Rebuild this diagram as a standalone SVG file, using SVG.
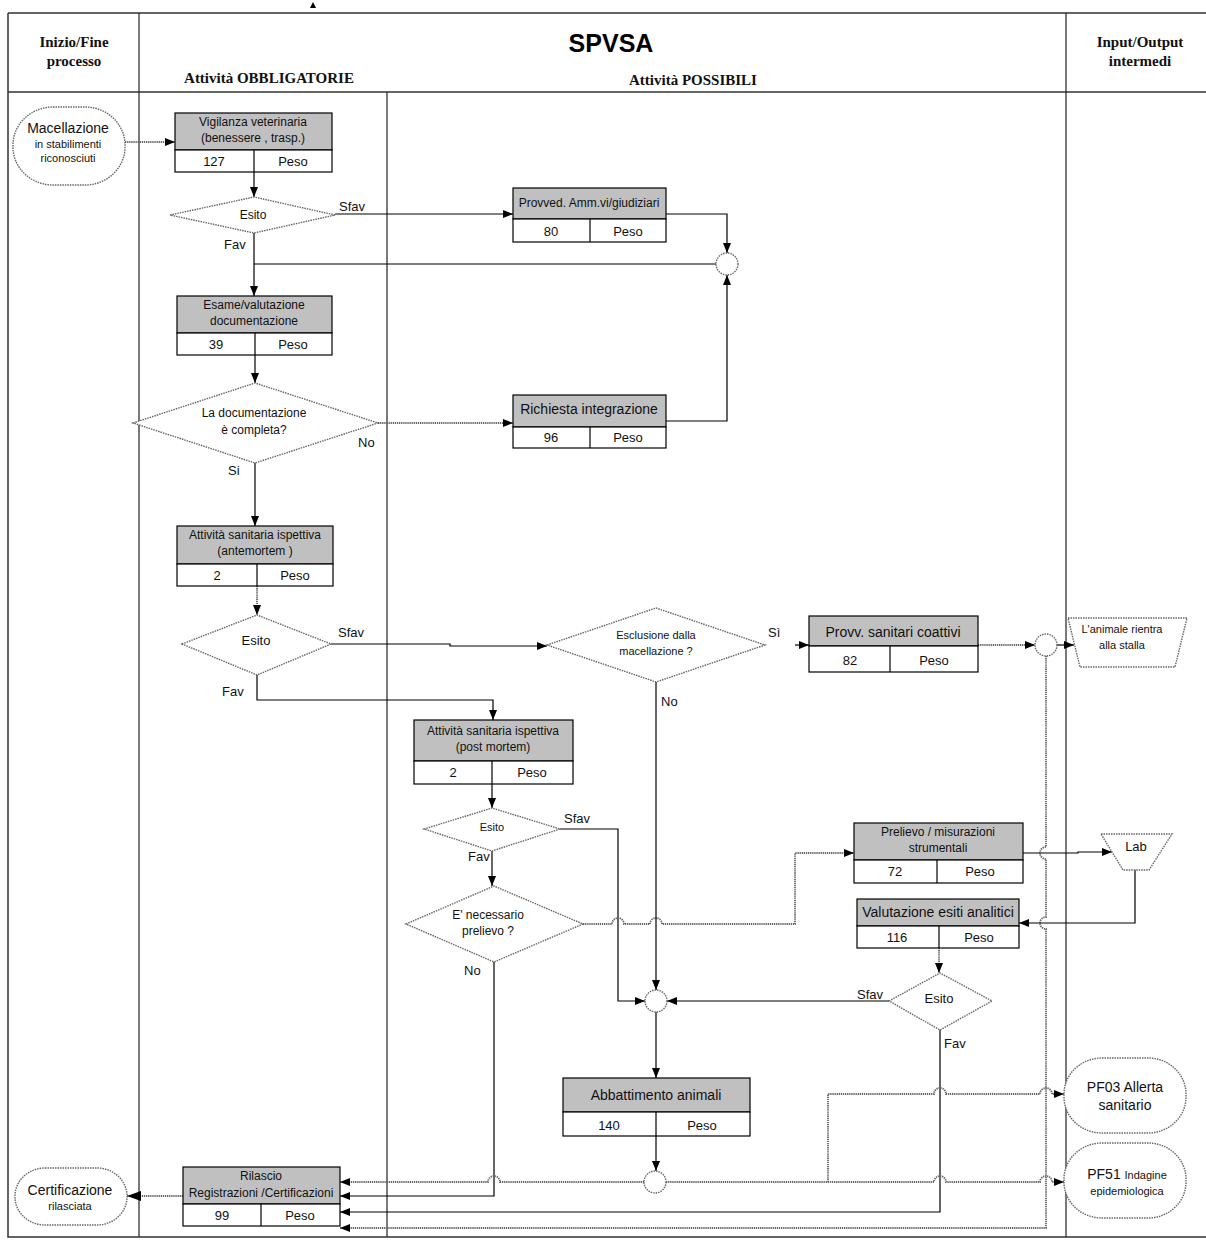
<svg xmlns="http://www.w3.org/2000/svg" width="1206" height="1245" viewBox="0 0 1206 1245">
  <defs>
    <marker id="arr" markerUnits="userSpaceOnUse" markerWidth="10" markerHeight="8" refX="10" refY="4" orient="auto">
      <path d="M0,0 L10,4 L0,8 z" fill="#000"/>
    </marker>
    <marker id="arrL" markerUnits="userSpaceOnUse" markerWidth="14" markerHeight="10" refX="14" refY="5" orient="auto">
      <path d="M0,0 L14,5 L0,10 z" fill="#000"/>
    </marker>
    <style>
      .frame { stroke: #333; stroke-width: 1.5; fill: none; }
      .lane { stroke: #222; stroke-width: 1.2; fill: none; }
      .hdr { font-family: "Liberation Serif", "Times New Roman", serif; font-weight: bold; font-size: 15px; fill: #111; text-anchor: middle; }
      .ttl { font-family: "Liberation Sans", Arial, sans-serif; font-weight: bold; font-size: 25px; fill: #000; text-anchor: middle; }
      .top { fill: #c0c0c0; stroke: #000; stroke-width: 1.2; }
      .bot { fill: #fff; stroke: #000; stroke-width: 1.2; }
      .div { stroke: #000; stroke-width: 1.2; }
      .dec { fill: #fff; stroke: #666; stroke-width: 1.4; stroke-dasharray: 1.5 1; }
      .ln { stroke: #000; stroke-width: 1.2; fill: none; }
      .dl { stroke: #666; stroke-width: 1.8; stroke-dasharray: 1.3 0.8; fill: none; }
      text.t { font-family: "Liberation Sans", Arial, sans-serif; fill: #111; text-anchor: middle; }
      .s11 { font-size: 11px; }
      .s12 { font-size: 12px; }
      .s13 { font-size: 13px; }
      .s14 { font-size: 14px; }
      text.lb { font-family: "Liberation Sans", Arial, sans-serif; font-size: 13px; fill: #111; }
    </style>
  </defs>

  <!-- swimlane table -->
  <g id="table">
    <path class="frame" d="M8,13 H1206 M8,13 V1237 H1206 M8,92 H1206"/>
    <path class="lane" d="M139,13 V1237 M1066,13 V1237 M387,92 V1237"/>
    <polygon points="310,8 316,8 313,2" fill="#000"/>
    <text class="hdr" x="74" y="47">Inizio/Fine</text>
    <text class="hdr" x="74" y="66">processo</text>
    <text class="ttl" x="611" y="52">SPVSA</text>
    <text class="hdr" x="269" y="83">Attività OBBLIGATORIE</text>
    <text class="hdr" x="693" y="85">Attività POSSIBILI</text>
    <text class="hdr" x="1140" y="47">Input/Output</text>
    <text class="hdr" x="1140" y="66">intermedi</text>
  </g>

  <!-- connectors -->
  <g id="connectors">
    <path class="dl" d="M125,142 H175" marker-end="url(#arr)"/>
    <path class="ln" d="M254,172 V197" marker-end="url(#arr)"/>
    <path class="ln" d="M335,214 H513" marker-end="url(#arr)"/>
    <path class="ln" d="M666,214 H727 V253" marker-end="url(#arr)"/>
    <path class="ln" d="M716,264 H254"/>
    <path class="ln" d="M254,233 V296" marker-end="url(#arr)"/>
    <path class="ln" d="M255,355 V383" marker-end="url(#arr)"/>
    <path class="dl" d="M378,423 H513" marker-end="url(#arr)"/>
    <path class="ln" d="M666,421 H727 V275" marker-end="url(#arr)"/>
    <path class="ln" d="M255,463 V526" marker-end="url(#arr)"/>
    <path class="dl" d="M257,586 V615" marker-end="url(#arr)"/>
    <path class="ln" d="M331,644 H450 V646 H547" marker-end="url(#arr)"/>
    <path class="ln" d="M257,675 V700 H493 V720" marker-end="url(#arr)"/>
    <path class="ln" d="M492,784 V808" marker-end="url(#arr)"/>
    <path class="ln" d="M560,829 H618 V1001 H645" marker-end="url(#arr)"/>
    <path class="ln" d="M492,851 V886" marker-end="url(#arr)"/>
    <path class="dl" d="M583,924 H612 a6,6 0 0 1 12,0 H650 a6,6 0 0 1 12,0 H795 V853 H854" marker-end="url(#arr)"/>
    <path class="ln" d="M494,962 V1196 H340" marker-end="url(#arr)"/>
    <path class="ln" d="M656,682 V990" marker-end="url(#arr)"/>
    <path class="ln" d="M795,645 H809" marker-end="url(#arr)"/>
    <path class="dl" d="M978,645 H1035" marker-end="url(#arr)"/>
    <path class="ln" d="M1057,645 H1074" marker-end="url(#arr)"/>
    <path class="dl" d="M1046,656 V847 a6,6 0 0 0 0,12 V917 a6,6 0 0 0 0,12 V1228 H340" marker-end="url(#arr)"/>
    <path class="ln" d="M1023,853 H1078 V852 H1112" marker-end="url(#arr)"/>
    <path class="ln" d="M1135,870 V923 H1019" marker-end="url(#arr)"/>
    <path class="dl" d="M939,948 V973" marker-end="url(#arr)"/>
    <path class="ln" d="M889,1001 H667" marker-end="url(#arr)"/>
    <path class="ln" d="M940,1030 V1212 H340" marker-end="url(#arr)"/>
    <path class="ln" d="M656,1012 V1078" marker-end="url(#arr)"/>
    <path class="ln" d="M656,1136 V1171" marker-end="url(#arr)"/>
    <path class="dl" d="M644,1182 H500 a6,6 0 0 0 -12,0 H340" marker-end="url(#arr)"/>
    <path class="dl" d="M666,1182 H934 a6,6 0 0 1 12,0 H1040 a6,6 0 0 1 12,0 H1064" marker-end="url(#arr)"/>
    <path class="dl" d="M828,1182 V1094 H934 a6,6 0 0 1 12,0 H1040 a6,6 0 0 1 12,0 H1064" marker-end="url(#arr)"/>
    <path class="dl" d="M183,1196 H127" marker-end="url(#arrL)"/>

    <text class="lb" x="339" y="211">Sfav</text>
    <text class="lb" x="224" y="249">Fav</text>
    <text class="lb" x="358" y="447">No</text>
    <text class="lb s11" x="228" y="475">Si</text>
    <text class="lb" x="338" y="637">Sfav</text>
    <text class="lb" x="222" y="696">Fav</text>
    <text class="lb" x="661" y="706">No</text>
    <text class="lb" x="768" y="637">Sì</text>
    <text class="lb s12" x="564" y="823">Sfav</text>
    <text class="lb s12" x="468" y="861">Fav</text>
    <text class="lb" x="464" y="975">No</text>
    <text class="lb" x="857" y="999">Sfav</text>
    <text class="lb" x="944" y="1048">Fav</text>
  </g>

  <!-- start / end terminators -->
  <g id="start">
    <rect class="dec" x="13" y="107" width="112" height="78" rx="40" ry="38"/>
    <text class="t s14" x="68" y="133">Macellazione</text>
    <text class="t s11" x="68" y="148">in stabilimenti</text>
    <text class="t s11" x="68" y="162">riconosciuti</text>
  </g>
  <g id="end">
    <rect class="dec" x="15" y="1168" width="112" height="57" rx="30" ry="28"/>
    <text class="t s14" x="70" y="1195">Certificazione</text>
    <text class="t s11" x="70" y="1210">rilasciata</text>
  </g>

  <!-- activity boxes -->
  <g id="vigilanza">
    <rect class="top" x="175" y="113" width="157" height="37"/>
    <rect class="bot" x="175" y="150" width="157" height="22"/>
    <line class="div" x1="254" y1="150" x2="254" y2="172"/>
    <text class="t s12" x="253" y="126">Vigilanza  veterinaria</text>
    <text class="t s12" x="253" y="142">(benessere , trasp.)</text>
    <text class="t s13" x="214" y="166">127</text>
    <text class="t s13" x="293" y="166">Peso</text>
  </g>
  <g id="provved">
    <rect class="top" x="513" y="188" width="153" height="31"/>
    <rect class="bot" x="513" y="219" width="153" height="23"/>
    <line class="div" x1="590" y1="219" x2="590" y2="242"/>
    <text class="t s12" x="589" y="207">Provved. Amm.vi/giudiziari</text>
    <text class="t s13" x="551" y="236">80</text>
    <text class="t s13" x="628" y="236">Peso</text>
  </g>
  <g id="esame">
    <rect class="top" x="177" y="296" width="155" height="37"/>
    <rect class="bot" x="177" y="333" width="155" height="22"/>
    <line class="div" x1="255" y1="333" x2="255" y2="355"/>
    <text class="t s12" x="254" y="309">Esame/valutazione</text>
    <text class="t s12" x="254" y="325">documentazione</text>
    <text class="t s13" x="216" y="349">39</text>
    <text class="t s13" x="293" y="349">Peso</text>
  </g>
  <g id="richiesta">
    <rect class="top" x="513" y="395" width="153" height="32"/>
    <rect class="bot" x="513" y="427" width="153" height="21"/>
    <line class="div" x1="590" y1="427" x2="590" y2="448"/>
    <text class="t s14" x="589" y="414">Richiesta  integrazione</text>
    <text class="t s13" x="551" y="442">96</text>
    <text class="t s13" x="628" y="442">Peso</text>
  </g>
  <g id="antemortem">
    <rect class="top" x="177" y="526" width="156" height="38"/>
    <rect class="bot" x="177" y="564" width="156" height="22"/>
    <line class="div" x1="257" y1="564" x2="257" y2="586"/>
    <text class="t s12" x="255" y="539">Attività sanitaria ispettiva</text>
    <text class="t s12" x="255" y="555">(antemortem )</text>
    <text class="t s13" x="217" y="580">2</text>
    <text class="t s13" x="295" y="580">Peso</text>
  </g>
  <g id="postmortem">
    <rect class="top" x="414" y="720" width="159" height="41"/>
    <rect class="bot" x="414" y="761" width="159" height="23"/>
    <line class="div" x1="492" y1="761" x2="492" y2="784"/>
    <text class="t s12" x="493" y="735">Attività sanitaria ispettiva</text>
    <text class="t s12" x="493" y="751">(post mortem)</text>
    <text class="t s13" x="453" y="777">2</text>
    <text class="t s13" x="532" y="777">Peso</text>
  </g>
  <g id="coattivi">
    <rect class="top" x="809" y="616" width="169" height="30"/>
    <rect class="bot" x="809" y="646" width="169" height="26"/>
    <line class="div" x1="890" y1="646" x2="890" y2="672"/>
    <text class="t s14" x="893" y="637">Provv. sanitari coattivi</text>
    <text class="t s13" x="850" y="665">82</text>
    <text class="t s13" x="934" y="665">Peso</text>
  </g>
  <g id="prelievo">
    <rect class="top" x="854" y="823" width="169" height="37"/>
    <rect class="bot" x="854" y="860" width="169" height="23"/>
    <line class="div" x1="937" y1="860" x2="937" y2="883"/>
    <text class="t s12" x="938" y="836">Prelievo / misurazioni</text>
    <text class="t s12" x="938" y="852">strumentali</text>
    <text class="t s13" x="895" y="876">72</text>
    <text class="t s13" x="980" y="876">Peso</text>
  </g>
  <g id="valutazione">
    <rect class="top" x="857" y="899" width="162" height="27"/>
    <rect class="bot" x="857" y="926" width="162" height="22"/>
    <line class="div" x1="939" y1="926" x2="939" y2="948"/>
    <text class="t s14" x="938" y="917">Valutazione  esiti analitici</text>
    <text class="t s13" x="897" y="942">116</text>
    <text class="t s13" x="979" y="942">Peso</text>
  </g>
  <g id="abbattimento">
    <rect class="top" x="563" y="1078" width="187" height="34"/>
    <rect class="bot" x="563" y="1112" width="187" height="24"/>
    <line class="div" x1="656" y1="1112" x2="656" y2="1136"/>
    <text class="t s14" x="656" y="1100">Abbattimento  animali</text>
    <text class="t s13" x="609" y="1130">140</text>
    <text class="t s13" x="702" y="1130">Peso</text>
  </g>
  <g id="rilascio">
    <rect class="top" x="183" y="1167" width="157" height="37"/>
    <rect class="bot" x="183" y="1204" width="157" height="22"/>
    <line class="div" x1="261" y1="1204" x2="261" y2="1226"/>
    <text class="t s12" x="261" y="1180">Rilascio</text>
    <text class="t s12" x="261" y="1197">Registrazioni /Certificazioni</text>
    <text class="t s13" x="222" y="1220">99</text>
    <text class="t s13" x="300" y="1220">Peso</text>
  </g>

  <!-- decisions -->
  <g id="esito1">
    <polygon class="dec" points="170,215 254,197 335,215 254,233"/>
    <text class="t s12" x="253" y="219">Esito</text>
  </g>
  <g id="documentazione">
    <polygon class="dec" points="133,423 255,383 378,423 255,463"/>
    <text class="t s12" x="254" y="417">La documentazione</text>
    <text class="t s12" x="254" y="434">è completa?</text>
  </g>
  <g id="esito2">
    <polygon class="dec" points="182,644 257,615 331,644 257,675"/>
    <text class="t s13" x="256" y="645">Esito</text>
  </g>
  <g id="esclusione">
    <polygon class="dec" points="547,645 656,608 765,645 656,682"/>
    <text class="t s11" x="656" y="639">Esclusione  dalla</text>
    <text class="t s11" x="656" y="655">macellazione ?</text>
  </g>
  <g id="esito3">
    <polygon class="dec" points="424,829 492,808 560,829 492,851"/>
    <text class="t s11" x="492" y="831">Esito</text>
  </g>
  <g id="prelievo-necessario">
    <polygon class="dec" points="406,924 494,886 583,924 494,962"/>
    <text class="t s12" x="488" y="919">E' necessario</text>
    <text class="t s12" x="488" y="935">prelievo ?</text>
  </g>
  <g id="esito4">
    <polygon class="dec" points="889,1001 940,973 992,1001 940,1030"/>
    <text class="t s13" x="939" y="1003">Esito</text>
  </g>

  <!-- junctions -->
  <g id="junction1"><circle class="dec" cx="727" cy="264" r="11"/></g>
  <g id="junction2"><circle class="dec" cx="1046" cy="645" r="11"/></g>
  <g id="junction3"><circle class="dec" cx="656" cy="1001" r="11"/></g>
  <g id="junction4"><circle class="dec" cx="655" cy="1182" r="11"/></g>

  <!-- intermediate inputs / outputs -->
  <g id="rientro">
    <polygon class="dec" points="1068,618 1187,618 1175,667 1080,667"/>
    <text class="t s11" x="1122" y="633">L'animale  rientra</text>
    <text class="t s11" x="1122" y="649">alla stalla</text>
  </g>
  <g id="lab">
    <polygon class="dec" points="1101,834 1172,834 1149,870 1123,870"/>
    <text class="t s13" x="1136" y="851">Lab</text>
  </g>
  <g id="pf03">
    <rect class="dec" x="1064" y="1058" width="122" height="75" rx="38" ry="36"/>
    <text class="t s14" x="1125" y="1092">PF03 Allerta</text>
    <text class="t s14" x="1125" y="1110">sanitario</text>
  </g>
  <g id="pf51">
    <rect class="dec" x="1064" y="1143" width="122" height="75" rx="38" ry="36"/>
    <text class="t" x="1127" y="1179"><tspan class="s14">PF51 </tspan><tspan class="s11">Indagine</tspan></text>
    <text class="t s11" x="1127" y="1195">epidemiologica</text>
  </g>
</svg>
